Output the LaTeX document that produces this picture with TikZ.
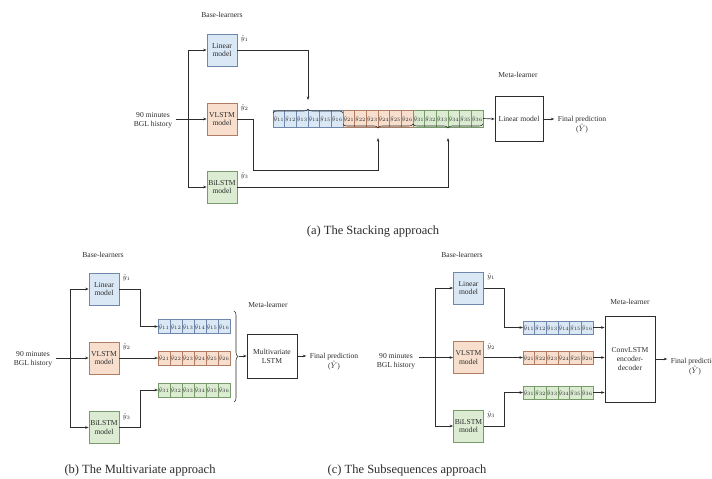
\documentclass[tikz,border=0pt]{standalone}
\usepackage{fontspec}
\setmainfont{Liberation Serif}
\usetikzlibrary{arrows.meta,decorations.pathreplacing}
\definecolor{bfill}{RGB}{218,232,246}
\definecolor{bdraw}{RGB}{110,135,170}
\definecolor{ofill}{RGB}{248,222,205}
\definecolor{odraw}{RGB}{175,125,100}
\definecolor{gfill}{RGB}{219,236,211}
\definecolor{gdraw}{RGB}{120,155,105}
\definecolor{ln}{RGB}{45,45,45}
\begin{document}
\begin{tikzpicture}[x=1pt,y=-1pt,
  every node/.style={text=ln, font=\fontsize{7.6}{8.8}\selectfont},
  base/.style={minimum width=30pt, minimum height=32pt, inner sep=0pt, align=center, line width=0.7pt},
  col1/.style={fill=bfill,draw=bdraw},
  col2/.style={fill=ofill,draw=odraw},
  col3/.style={fill=gfill,draw=gdraw},
  cell/.style={inner sep=0pt, outer sep=0pt, line width=0.45pt, font=\fontsize{6.2}{6.5}\selectfont},
  meta/.style={draw=ln, line width=0.7pt, align=center, inner sep=0pt},
  conn/.style={draw=ln, line width=0.65pt},
  arr/.style={conn, -{Stealth[length=3.5pt,width=2.6pt]}},
  brc/.style={conn, line width=0.55pt, decorate, decoration={brace, amplitude=4pt}},
  yl/.style={anchor=north west, inner sep=0.5pt, xshift=2.5pt, yshift=-1.5pt, font=\fontsize{6.8}{7}\selectfont},
  lbl/.style={align=center},
  captxt/.style={font=\fontsize{12.5}{14}\selectfont},
]
\fill[white] (0,0) rectangle (712,479);
\useasboundingbox (0,0) rectangle (712,479);

% ================= (a) Stacking =================
\node (bl_a) at (222,15) {Base-learners};
\node[base,col1] (lin_a) at (222,50) {Linear\\model};
\node[base,col2] (vl_a) at (222,119) {VLSTM\\model};
\node[base,col3] (bi_a) at (222,187) {BiLSTM\\model};
\node[yl] (y1_a) at (lin_a.north east) {$\hat{y}_1$};
\node[yl] (y2_a) at (vl_a.north east) {$\hat{y}_2$};
\node[yl] (y3_a) at (bi_a.north east) {$\hat{y}_3$};
\node[lbl] (hist_a) at (153,120) {90 minutes\\BGL history};
\coordinate (s_a) at (188,119);
\draw[arr] (hist_a.east |- s_a) -- (vl_a.west);
\draw[arr] (s_a) |- (lin_a.west);
\draw[arr] (s_a) |- (bi_a.west);

\foreach \i in {1,2,3}{\foreach \j in {1,...,6}{
  \pgfmathsetmacro\cx{273+(6*\i+\j-6.5)*70/6}
  \node[cell,col\i,minimum width=11.67pt,minimum height=17pt] (a\i\j) at (\cx,118.5) {$\hat{y}_{\i\j}$};
}}
\draw[brc] ([yshift=-3pt]a11.north west) -- ([yshift=-3pt]a16.north east);
\draw[brc] ([yshift=3pt]a26.south east) -- ([yshift=3pt]a21.south west);
\draw[brc] ([yshift=3pt]a36.south east) -- ([yshift=3pt]a31.south west);
\coordinate (tA) at (308,100);
\coordinate (tB) at (378,138);
\coordinate (tC) at (448,138);
\coordinate (jB) at (378,170);
\draw[arr] (lin_a.east) -| (tA);
\draw[arr] (vl_a.east) -- ++(16,0) |- (jB) -- (tB);
\draw[arr] (bi_a.east) -| (tC);

\node[meta,minimum width=48pt,minimum height=45pt] (ma) at (519,119) {Linear model};
\node (ml_a) at (518,75) {Meta-learner};
\draw[arr] (a36.east) -- (ma.west);
\node[lbl] (fa) at (582,125) {Final prediction\\($\hat{Y}$)};
\draw[arr] (ma.east) -- (ma.east -| fa.west);
\node[captxt] (cap_a) at (373,232) {(a) The Stacking approach};

% ================= (b) Multivariate =================
\node (bl_b) at (103,255) {Base-learners};
\node[base,col1] (lin_b) at (104,289) {Linear\\model};
\node[base,col2] (vl_b) at (104,358) {VLSTM\\model};
\node[base,col3] (bi_b) at (104,427.5) {BiLSTM\\model};
\node[yl] (y1_b) at (lin_b.north east) {$\hat{y}_1$};
\node[yl] (y2_b) at (vl_b.north east) {$\hat{y}_2$};
\node[yl] (y3_b) at (bi_b.north east) {$\hat{y}_3$};
\node[lbl] (hist_b) at (33,359) {90 minutes\\BGL history};
\coordinate (s_b) at (70,358);
\draw[arr] (hist_b.east |- s_b) -- (vl_b.west);
\draw[arr] (s_b) |- (lin_b.west);
\draw[arr] (s_b) |- (bi_b.west);

\foreach \i/\yy in {1/326.5,2/358,3/390}{\foreach \j in {1,...,6}{
  \pgfmathsetmacro\cx{158+(\j-0.5)*12}
  \node[cell,col\i,minimum width=12pt,minimum height=14pt] (b\i\j) at (\cx,\yy) {$\hat{y}_{\i\j}$};
}}
\coordinate (jb1) at (140,289);
\coordinate (jb3) at (140,427.5);
\draw[arr] (lin_b.east) -- (jb1) |- (b11.west);
\draw[arr] (vl_b.east) -- (b21.west);
\draw[arr] (bi_b.east) -- (jb3) |- (b31.west);
\draw[brc] (234,311) -- (234,402);
\node[meta,minimum width=50pt,minimum height=44pt] (mb) at (272,356) {Multivariate\\LSTM};
\node (ml_b) at (268,305) {Meta-learner};
\coordinate (tb) at (239,356);
\draw[arr] (tb) -- (mb.west);
\node[lbl] (fb) at (334,362) {Final prediction\\($\hat{Y}$)};
\draw[arr] (mb.east) -- (mb.east -| fb.west);
\node[captxt] (cap_b) at (140,470) {(b) The Multivariate approach};

% ================= (c) Subsequences =================
\node (bl_c) at (462,255) {Base-learners};
\node[base,col1] (lin_c) at (468.5,288) {Linear\\model};
\node[base,col2] (vl_c) at (468.5,357.5) {VLSTM\\model};
\node[base,col3] (bi_c) at (468.5,426) {BiLSTM\\model};
\node[yl] (y1_c) at (lin_c.north east) {$\hat{y}_1$};
\node[yl] (y2_c) at (vl_c.north east) {$\hat{y}_2$};
\node[yl] (y3_c) at (bi_c.north east) {$\hat{y}_3$};
\node[lbl] (hist_c) at (396,361) {90 minutes\\BGL history};
\coordinate (s_c) at (435,357.5);
\draw[arr] (hist_c.east |- s_c) -- (vl_c.west);
\draw[arr] (s_c) |- (lin_c.west);
\draw[arr] (s_c) |- (bi_c.west);

\foreach \i/\yy in {1/327.5,2/357.5,3/392.5}{\foreach \j in {1,...,6}{
  \pgfmathsetmacro\cx{523+(\j-0.5)*70/6}
  \node[cell,col\i,minimum width=11.67pt,minimum height=13.5pt] (c\i\j) at (\cx,\yy) {$\hat{y}_{\i\j}$};
}}
\coordinate (jc1) at (504,288);
\coordinate (jc3) at (504,426);
\draw[arr] (lin_c.east) -- (jc1) |- (c11.west);
\draw[arr] (vl_c.east) -- (c21.west);
\draw[arr] (bi_c.east) -- (jc3) |- (c31.west);
\node[meta,minimum width=50pt,minimum height=86pt] (mc) at (630,359) {ConvLSTM\\encoder-\\decoder};
\node (ml_c) at (630,302) {Meta-learner};
\draw[arr] (c16.east) -- (c16.east -| mc.west);
\draw[arr] (c26.east) -- (c26.east -| mc.west);
\draw[arr] (c36.east) -- (c36.east -| mc.west);
\node[lbl] (fc) at (695,367) {Final prediction\\($\hat{Y}$)};
\draw[arr] (mc.east) -- (mc.east -| fc.west);
\node[captxt] (cap_c) at (407,470) {(c) The Subsequences approach};
\end{tikzpicture}
\end{document}
